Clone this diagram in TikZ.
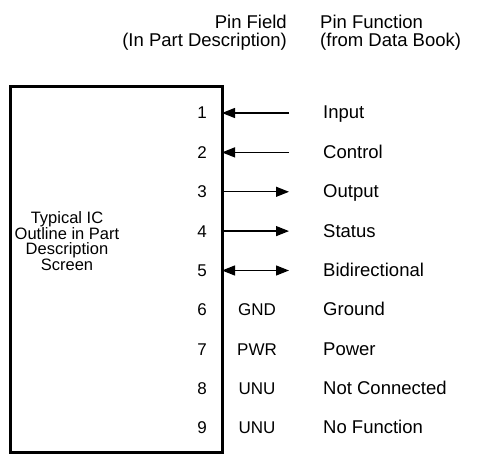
\documentclass[tikz,border=0pt]{standalone}
\usepackage{fontspec}
\setmainfont{Liberation Sans}
\usetikzlibrary{arrows.meta}
\definecolor{ink}{HTML}{000000}
\newcommand{\pinsize}{\fontsize{17}{17}\selectfont}
\newcommand{\funcsize}{\fontsize{18.5}{18}\selectfont}
\newcommand{\outlinesize}{\fontsize{16.5}{15.5}\selectfont}
\tikzset{
 every node/.append style={font=\pinsize,text=ink,inner sep=0pt},
 chip/.style={draw=ink,line width=2.6pt,minimum width=212pt,minimum height=366pt,anchor=north west},
 pinno/.style={anchor=base east},
 field/.style={anchor=base},
 func/.style={anchor=base west,font=\funcsize},
 head/.style={font=\funcsize},
 sig/.style={-{Triangle[length=13pt,width=10pt]},draw=ink,line width=1.3pt},
 sigboth/.style={{Triangle[length=13pt,width=10pt]}-{Triangle[length=13pt,width=10pt]},draw=ink,line width=1.3pt},
}

\begin{document}
\begin{tikzpicture}[x=1pt,y=-1pt]

\useasboundingbox (0,0) rectangle (501,454);
\node[head,anchor=north east,align=right] (fieldhead) at (287,15) {Pin Field\\[0pt](In Part Description)};
\node[head,anchor=north west,align=left] (funchead) at (320,15) {Pin Function\\[0pt](from Data Book)};
\node[chip] (ic) at (9,85) {};
\node[align=center,font=\outlinesize] (desc) at (67,241) {Typical IC\\Outline in Part\\Description\\Screen};
% pin numbers
\node[pinno] (n1) at (207,119) {1};
\node[pinno] (n2) at (207,158.4) {2};
\node[pinno] (n3) at (207,197.8) {3};
\node[pinno] (n4) at (207,237.1) {4};
\node[pinno] (n5) at (207,276.5) {5};
\node[pinno] (n6) at (207,315.9) {6};
\node[pinno] (n7) at (207,355.3) {7};
\node[pinno] (n8) at (207,394.6) {8};
\node[pinno] (n9) at (207,434) {9};
% pin fields
\coordinate (p1) at (222,113); \coordinate (t1) at (289,113);
\coordinate (p2) at (222,152.4); \coordinate (t2) at (289,152.4);
\coordinate (p3) at (222,191.8); \coordinate (t3) at (289,191.8);
\coordinate (p4) at (222,231.1); \coordinate (t4) at (289,231.1);
\coordinate (p5) at (222,270.5); \coordinate (t5) at (289,270.5);
\draw[sig] (t1) -- (p1);
\draw[sig] (t2) -- (p2);
\draw[sig] (p3) -- (t3);
\draw[sig] (p4) -- (t4);
\draw[sigboth] (p5) -- (t5);
\node[field] (f6) at (257,315.9) {GND};
\node[field] (f7) at (257,355.3) {PWR};
\node[field] (f8) at (257,394.6) {UNU};
\node[field] (f9) at (257,434) {UNU};
% pin functions
\node[func] (g1) at (323,119) {Input};
\node[func] (g2) at (323,158.4) {Control};
\node[func] (g3) at (323,197.8) {Output};
\node[func] (g4) at (323,237.1) {Status};
\node[func] (g5) at (323,276.5) {Bidirectional};
\node[func] (g6) at (323,315.9) {Ground};
\node[func] (g7) at (323,355.3) {Power};
\node[func] (g8) at (323,394.6) {Not Connected};
\node[func] (g9) at (323,434) {No Function};

\end{tikzpicture}
\end{document}
